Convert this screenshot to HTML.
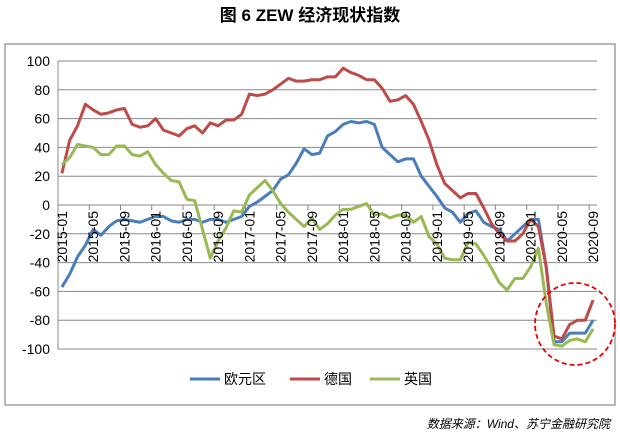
<!DOCTYPE html>
<html><head><meta charset="utf-8"><style>
body{margin:0;background:#fff;width:620px;height:435px;overflow:hidden;font-family:"Liberation Sans","Noto Sans CJK SC",sans-serif}
</style></head><body>
<svg id="chart" width="620" height="435" xmlns="http://www.w3.org/2000/svg">
<text x="310" y="21" text-anchor="middle" font-size="17" font-weight="bold" font-family="'Liberation Sans','Noto Sans CJK SC',sans-serif">图 6 ZEW 经济现状指数</text>
<rect x="5" y="44" width="610" height="361" fill="none" stroke="#888" stroke-width="1.2"/>
<g id="grid"></g><g id="series"></g><g id="xlabels"></g>
<ellipse cx="575" cy="324" rx="40" ry="41" fill="none" stroke="#e00" stroke-width="1.8" stroke-dasharray="5,3"/>
<g font-size="14">
<line x1="190" y1="379" x2="220" y2="379" stroke="#4a7ebb" stroke-width="3"/><text x="224" y="384">欧元区</text>
<line x1="290" y1="379" x2="320" y2="379" stroke="#be4b48" stroke-width="3"/><text x="324" y="384">德国</text>
<line x1="370" y1="379" x2="400" y2="379" stroke="#98b954" stroke-width="3"/><text x="404" y="384">英国</text>
</g>
<text x="610" y="428" text-anchor="end" font-size="12" font-style="italic">数据来源：Wind、苏宁金融研究院</text>
</svg>
<script>
const months=[];for(let y=2015;y<=2020;y++)for(let m=1;m<=12;m++){if(y===2020&&m>9)break;months.push(y+'-'+String(m).padStart(2,'0'));}
const yTicks=[100,80,60,40,20,0,-20,-40,-60,-80,-100];
const euro=[-57,-48,-36,-28,-17,-21,-15,-11,-10,-11,-12,-10,-8,-8,-11,-12,-10,-10,-12,-10,-10,-12,-10,-8,-1,2,6,10,18,21,29,39,35,36,48,51,56,58,57,58,56,40,35,30,32,32,20,13,6,-2,-5,-12,-6,-4,-12,-15,-17,-25,-20,-15,-10,-10,-43,-95,-95,-89,-89,-89,-80];
const germany=[22,45,55,70,66,63,64,66,67,56,54,55,60,52,50,48,53,55,50,57,55,59,59,63,77,76,77,80,84,88,86,86,87,87,89,89,95,92,90,87,87,81,72,73,76,70,58,45,28,15,10,5,8,8,-2,-13,-20,-25,-25,-20,-10,-15,-43,-91,-93,-83,-80,-80,-66];
const uk=[28,33,42,41,40,35,35,41,41,35,34,37,28,22,17,16,4,3,-17,-37,-25,-16,-4,-5,7,12,17,10,1,-5,-10,-15,-9,-17,-13,-7,-3,-3,-1,1,-7,-6,-9,-7,-7,-12,-8,-22,-27,-37,-38,-38,-26,-27,-35,-44,-54,-59,-51,-51,-43,-30,-68,-97,-98,-94,-93,-95,-86];
const NS='http://www.w3.org/2000/svg';
const L=58,R=597,T=61,B=349;
const cw=(R-L)/months.length;
const xs=i=>L+(i+0.5)*cw;
const ys=v=>T+(100-v)/200*(B-T);
const g=document.getElementById('grid'),s=document.getElementById('series'),xl=document.getElementById('xlabels');
function mk(tag,at,p){const e=document.createElementNS(NS,tag);for(const k in at)e.setAttribute(k,at[k]);p.appendChild(e);return e;}
yTicks.forEach(v=>{
 const ln=mk('line',{x1:L,x2:R,y1:ys(v),y2:ys(v),stroke:'#888','stroke-width':1},g);
 
 
 const t=mk('text',{x:L-8,y:ys(v)+5,'text-anchor':'end','font-size':14},g);t.textContent=v;
 
 
});
mk('line',{x1:L,x2:L,y1:T,y2:B,stroke:'#888'},g);
const y0=ys(0);
for(let i=0;i<=months.length;i++){if(i%4===0)mk('line',{x1:L+i*cw,x2:L+i*cw,y1:y0,y2:y0+5,stroke:'#888'},g);}
months.forEach((m,i)=>{if(i%4!==0)return;
 const x=xs(i),y=y0+6;
 const t=mk('text',{x:x,y:y,'text-anchor':'end','font-size':14,transform:`rotate(-90 ${x} ${y}) translate(0 5)`},xl);t.textContent=m;
 
 
});
[[euro,'#4a7ebb','line-eurozone'],[germany,'#be4b48','line-germany'],[uk,'#98b954','line-uk']].forEach(([d,c,n])=>{
 const p=mk('polyline',{points:d.map((v,i)=>xs(i)+','+ys(v)).join(' '),fill:'none',stroke:c,'stroke-width':3,'stroke-linejoin':'round'},s);
 
 
});
</script>
</body></html>
